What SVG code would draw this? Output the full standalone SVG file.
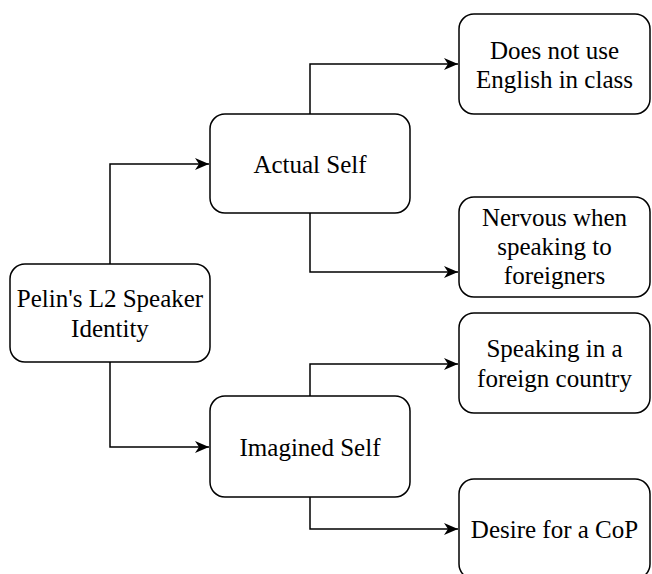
<svg xmlns="http://www.w3.org/2000/svg" width="652" height="574" viewBox="0 0 652 574">
  <style>
    .box { fill: #ffffff; stroke: #000000; stroke-width: 1.5; }
    .lbl { font-family: "Liberation Serif", "Times New Roman", Times, serif; font-size: 25px; fill: #000000; text-anchor: middle; }
    .edge { fill: none; stroke: #000000; stroke-width: 1.5; marker-end: url(#arrow); }
  </style>
  <defs>
    <marker id="arrow" viewBox="0 0 14 12" refX="14" refY="6" markerWidth="14" markerHeight="12" markerUnits="userSpaceOnUse" orient="auto">
      <path d="M0,0 L14,6 L0,12 L4,6 Z" fill="#000000"/>
    </marker>
  </defs>
  <rect width="652" height="574" fill="#ffffff"/>

  <g id="connectors">
    <path class="edge" d="M110,264 V164 H209"/>
    <path class="edge" d="M110,362 V447 H209"/>
    <path class="edge" d="M310,114 V64 H458"/>
    <path class="edge" d="M310,213 V272 H458"/>
    <path class="edge" d="M310,396 V364 H458"/>
    <path class="edge" d="M310,497 V529 H458"/>
  </g>

  <g id="pelin">
    <rect class="box" x="10" y="264" width="200" height="98" rx="15"/>
    <text class="lbl" x="110" y="307">Pelin's L2 Speaker</text>
    <text class="lbl" x="110" y="337">Identity</text>
  </g>

  <g id="actual-self">
    <rect class="box" x="210" y="114" width="200" height="99" rx="15"/>
    <text class="lbl" x="310" y="173">Actual Self</text>
  </g>

  <g id="imagined-self">
    <rect class="box" x="210" y="396" width="200" height="101" rx="15"/>
    <text class="lbl" x="310" y="456">Imagined Self</text>
  </g>

  <g id="no-english">
    <rect class="box" x="459" y="14" width="191" height="100" rx="15"/>
    <text class="lbl" x="554.5" y="59">Does not use</text>
    <text class="lbl" x="554.5" y="88">English in class</text>
  </g>

  <g id="nervous">
    <rect class="box" x="459" y="197" width="191" height="100" rx="15"/>
    <text class="lbl" x="554.5" y="226">Nervous when</text>
    <text class="lbl" x="554.5" y="255">speaking to</text>
    <text class="lbl" x="554.5" y="284">foreigners</text>
  </g>

  <g id="foreign-country">
    <rect class="box" x="459" y="313" width="191" height="100" rx="15"/>
    <text class="lbl" x="554.5" y="357">Speaking in a</text>
    <text class="lbl" x="554.5" y="387">foreign country</text>
  </g>

  <g id="cop">
    <rect class="box" x="459" y="479" width="191" height="100" rx="15"/>
    <text class="lbl" x="554.5" y="538">Desire for a CoP</text>
  </g>
</svg>
